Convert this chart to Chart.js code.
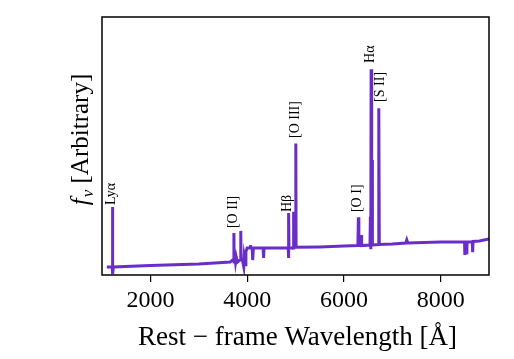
<!DOCTYPE html>
<html>
<head>
<meta charset="utf-8">
<script src="https://cdn.jsdelivr.net/npm/chart.js@4.4.0/dist/chart.umd.min.js"></script>
<style>
  html, body { margin: 0; padding: 0; background: #fff; }
  #wrap { width: 514px; height: 359px; }
</style>
</head>
<body>
<div id="wrap"><canvas id="myChart"></canvas></div>
<script>
// spectrum (rest wavelength in A, flux in arbitrary units)
var wave = [1100, 1200, 1210, 1216, 1219, 1223, 1236, 2000, 3000, 3650, 3700, 3722, 3727, 3732,
  3745, 3760, 3775, 3800, 3864, 3869, 3874, 3900, 3930, 3940, 3965, 3975, 4000, 4060, 4068, 4076,
  4105, 4115, 4130, 4330, 4340, 4350, 4500, 4800, 4850, 4855, 4858, 4861, 4866, 4950, 4959, 4964,
  5002, 5007, 5012, 5500, 6000, 6290, 6300, 6310, 6360, 6364, 6370, 6540, 6548, 6554, 6560, 6563,
  6570, 6580, 6583, 6590, 6712, 6722, 6732, 7000, 7280, 7300, 7320, 8000, 8450, 8495,
  8500, 8505, 8537, 8542, 8547, 8655, 8662, 8670, 8800, 9000];
var flux = [0.031, 0.031, 0.031, 0.264, 0.031, 0.004, 0.031, 0.037, 0.043, 0.050, 0.058, 0.058, 0.163, 0.050,
  0.075, 0.050, 0.070, 0.050, 0.060, 0.171, 0.060, 0.060, 0.032, 0.070, 0.040, 0.090, 0.105, 0.105, 0.116, 0.105,
  0.105, 0.058, 0.105, 0.105, 0.066, 0.105, 0.105, 0.105, 0.105, 0.066, 0.105, 0.240, 0.105, 0.105, 0.245, 0.105,
  0.108, 0.510, 0.108, 0.109, 0.112, 0.114, 0.224, 0.114, 0.114, 0.155, 0.114, 0.116, 0.226, 0.116, 0.100, 0.797,
  0.116, 0.116, 0.446, 0.116, 0.118, 0.646, 0.118, 0.120, 0.124, 0.136, 0.124, 0.128, 0.128, 0.128,
  0.078, 0.128, 0.128, 0.080, 0.128, 0.128, 0.088, 0.130, 0.132, 0.140];

var lineNames = ['Ly\u03b1', '[O II]', 'H\u03b2', '[O III]', '[O I]', 'H\u03b1', '[S II]'];
var lineWave = [1190, 3710, 4840, 4995, 6285, 6545, 6755];
var lineLabelY = [0.271, 0.182, 0.244, 0.531, 0.244, 0.822, 0.671];

var xTicks = [2000, 4000, 6000, 8000];

var points = wave.map(function (w, i) { return { x: w, y: flux[i] }; });

var serif = '"Liberation Serif", "DejaVu Serif", serif';
var purple = 'rgb(106, 46, 200)';

var extras = {
  id: 'extras',
  afterDraw: function (chart) {
    var c = chart.ctx, a = chart.chartArea;
    var xs = chart.scales.x, ys = chart.scales.y;
    c.save();
    // frame
    c.strokeStyle = '#000';
    c.lineWidth = 1.5;
    c.strokeRect(a.left, a.top, a.right - a.left, a.bottom - a.top);

    // line labels
    c.fillStyle = '#000';
    c.font = '14px ' + serif;
    c.textAlign = 'left';
    c.textBaseline = 'middle';
    for (var i = 0; i < lineNames.length; i++) {
      c.save();
      c.translate(xs.getPixelForValue(lineWave[i]), ys.getPixelForValue(lineLabelY[i]));
      c.rotate(-Math.PI / 2);
      c.fillText(lineNames[i], 0, 0);
      c.restore();
    }

    // x title
    c.font = '27px ' + serif;
    c.textAlign = 'center';
    c.fillText('Rest \u2212 frame Wavelength [\u00c5]', (a.left + a.right) / 2 + 2, 338);

    // y title: f_nu [Arbitrary]
    c.save();
    c.translate(88, 140);
    c.rotate(-Math.PI / 2);
    c.textBaseline = 'alphabetic';
    var p1 = 'italic 25px ' + serif, p2 = 'italic 17px ' + serif, p3 = '25px ' + serif;
    c.font = p1; var w1 = c.measureText('f').width;
    c.font = p2; var w2 = c.measureText('\u03bd').width;
    c.font = p3; var w3 = c.measureText(' [Arbitrary]').width;
    var x0 = -(w1 + w2 + w3) / 2;
    c.textAlign = 'left';
    c.font = p1; c.fillText('f', x0, 0);
    c.font = p2; c.fillText('\u03bd', x0 + w1 + 1, 5);
    c.font = p3; c.fillText(' [Arbitrary]', x0 + w1 + w2 + 1, 0);
    c.restore();
    c.restore();
  }
};

var ctx = document.getElementById('myChart');
var chart = new Chart(ctx, {
  type: 'line',
  data: {
    datasets: [{
      data: points,
      borderColor: purple,
      borderWidth: 3,
      pointRadius: 0,
      tension: 0,
      fill: false
    }]
  },
  options: {
    responsive: true,
    maintainAspectRatio: false,
    animation: false,
    parsing: false,
    layout: { padding: { top: 17, right: 25, left: 0, bottom: 0 } },
    plugins: { legend: { display: false }, tooltip: { enabled: false } },
    scales: {
      x: {
        type: 'linear',
        min: 1000,
        max: 9000,
        afterBuildTicks: function (s) { s.ticks = xTicks.map(function (v) { return { value: v }; }); },
        afterFit: function (s) { s.height = 84; },
        border: { display: false },
        grid: { drawOnChartArea: false, drawTicks: true, tickLength: 7, color: '#000', lineWidth: 1.2 },
        ticks: {
          color: '#000', font: { family: serif, size: 24 }, padding: 4, maxRotation: 0, autoSkip: false,
          callback: function (v) { return String(v); }
        }
      },
      y: {
        min: 0,
        max: 1,
        afterFit: function (s) { s.width = 102; },
        border: { display: false },
        grid: { display: false },
        ticks: { display: false }
      }
    }
  },
  plugins: [extras]
});
</script>
</body>
</html>
